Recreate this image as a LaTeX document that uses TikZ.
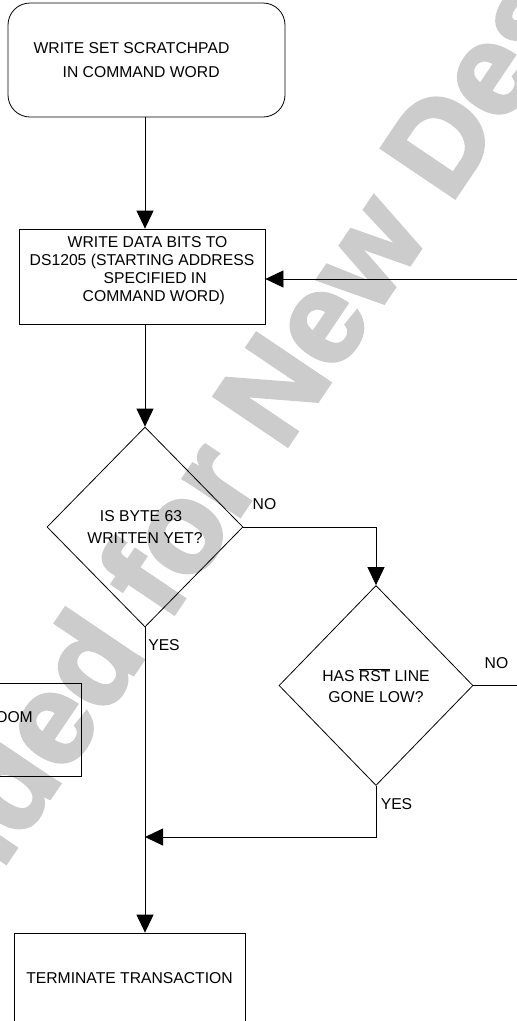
\documentclass[tikz,border=0pt]{standalone}
\usepackage{fontspec}
\setmainfont{Liberation Sans}
\newfontfamily\wmfont{Liberation Sans}[BoldFeatures={FakeBold=3}]
\usepackage{tikz}
\usetikzlibrary{positioning}
\usetikzlibrary{shapes.geometric}
\usetikzlibrary{arrows.meta}

\begin{document}
\begin{tikzpicture}[x=1pt, y=-1pt,
  box/.style={draw=black, line width=0.8pt, inner sep=0pt},
  decision/.style={draw=black, line width=0.8pt, diamond, inner sep=0pt, align=center},
  flow/.style={line width=0.8pt, -{Triangle[length=18pt,width=17pt]}},
  link/.style={line width=0.8pt},
  lbl/.style={inner sep=0pt},
  wmark/.style={inner sep=0pt, text=black!20, font=\wmfont\bfseries\fontsize{128}{128}\selectfont, rotate=56},
  font=\fontsize{15.7}{18.3}\selectfont]

\useasboundingbox (0,0) rectangle (517,1021);
\clip (0,0) rectangle (517,1021);

% watermark behind the chart
\node (wmA) at (450,204.5) [wmark, anchor=base east] {Not Recommended for New\hspace*{0.278em}};
\node (wmB) at (450,204.5) [wmark, anchor=base west] {Designs};

% boxes
\node (start) at (146.5,60) [box, rounded corners=22pt, minimum width=277pt, minimum height=114pt, align=left]
  {WRITE SET SCRATCHPAD\hspace*{30pt}\\[6pt]\hspace*{29pt}IN COMMAND WORD};
\node (data) at (142,276.5) [box, minimum width=246pt, minimum height=95pt, align=left]
  {\hspace*{38pt}WRITE DATA BITS TO\\DS1205 (STARTING ADDRESS\\\hspace*{74pt}SPECIFIED IN\\\hspace*{53pt}COMMAND WORD)\rule[-15pt]{0pt}{15pt}};
\node (byte) at (145,527) [decision, minimum width=196pt, minimum height=200pt]
  {IS BYTE 63\hspace*{8pt}\\[3pt]WRITTEN YET?};
\node (rst) at (376,685.5) [decision, minimum width=194pt, minimum height=200pt]
  {HAS $\overline{\mbox{RST}}$ LINE\\[2pt]GONE LOW?};
\node (term) at (129.5,978.5) [box, minimum width=231pt, minimum height=91pt] {TERMINATE TRANSACTION};
\node (side) at (10.5,729.5) [box, minimum width=141pt, minimum height=93pt] {};
\node (sidetext) at (33,717) [lbl, anchor=east] {OOM};

% labels
\node (noA) at (264.5,504) [lbl] {NO};
\node (yesA) at (164,645) [lbl] {YES};
\node (noB) at (496.5,663) [lbl] {NO};
\node (yesB) at (396.5,804.5) [lbl] {YES};

% loose ends
\coordinate (loopin) at (517,279);
\coordinate (rstout) at (517,685.5);
\coordinate (merge) at (145,837);

% connectors
\draw[flow] (start.south -| byte.north) -- (data.north -| byte.north);
\draw[flow] (data.south -| byte.north) -- (byte.north);
\draw[flow] (loopin) -- (loopin -| data.east);
\draw[flow] (byte.east) -| (rst.north);
\draw[link] (rst.east) -- (rstout);
\draw[flow] (rst.south) |- (merge);
\draw[flow] (byte.south) -- (byte.south |- term.north);

\end{tikzpicture}
\end{document}
